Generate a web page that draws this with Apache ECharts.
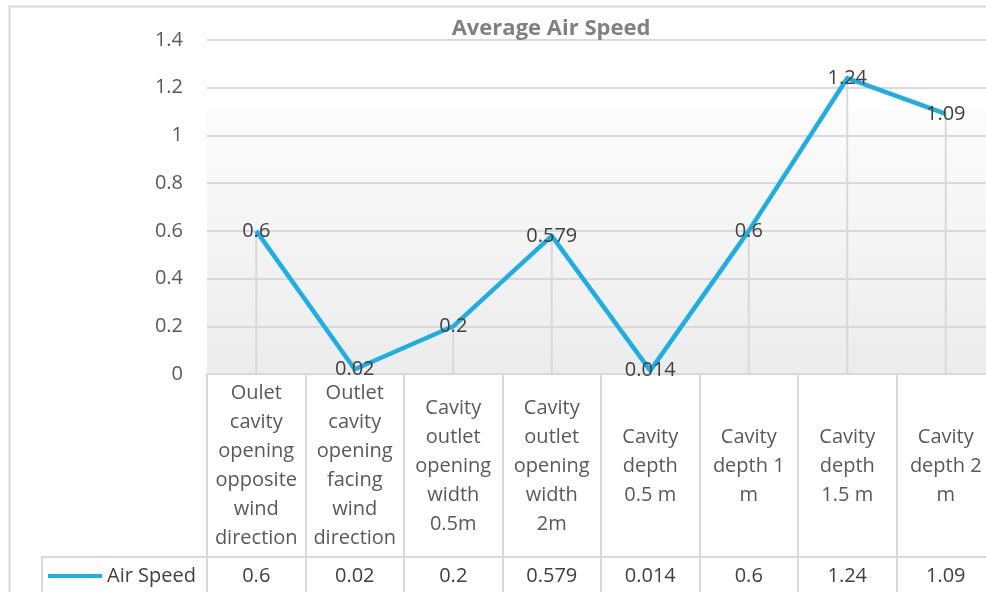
<!DOCTYPE html>
<html>
<head>
<meta charset="utf-8">
<style>
  html, body { margin: 0; padding: 0; background: #ffffff; }
  #chart { width: 986px; height: 592px; }
</style>
<script src="https://cdn.jsdelivr.net/npm/echarts@6/dist/echarts.min.js"></script>
</head>
<body>
<div id="chart"></div>
<script>
// Test configurations, wrapped as they appear in the table header
const categories = [
  'Oulet\ncavity\nopening\nopposite\nwind\ndirection',
  'Outlet\ncavity\nopening\nfacing\nwind\ndirection',
  'Cavity\noutlet\nopening\nwidth\n0.5m',
  'Cavity\noutlet\nopening\nwidth\n2m',
  'Cavity\ndepth\n0.5 m',
  'Cavity\ndepth 1\nm',
  'Cavity\ndepth\n1.5 m',
  'Cavity\ndepth 2\nm'
];
// Average air speed per configuration
const airSpeed = [0.6, 0.02, 0.2, 0.579, 0.014, 0.6, 1.24, 1.09];
const seriesName = 'Air Speed';
const yTicks = { min: 0, max: 1.4, interval: 0.2 };

const FONT = '"Open Sans", Lato, sans-serif';
const FS = 20;
const GRID = '#d9d9d9';
const BLUE = '#1faee4';

const chart = echarts.init(document.getElementById('chart'));

chart.setOption({
  animation: false,
  backgroundColor: '#ffffff',
  title: {
    text: 'Average Air Speed',
    left: 546,
    textAlign: 'center',
    top: 13,
    textStyle: { fontFamily: FONT, fontSize: 22, fontWeight: 'bold', color: '#808080' }
  },
  legend: {
    data: [seriesName],
    left: 48,
    top: 566,
    padding: 0,
    icon: 'rect',
    itemWidth: 54,
    itemHeight: 4,
    textStyle: { fontFamily: FONT, fontSize: FS, color: '#404040' }
  },
  grid: {
    left: 207,
    top: 40,
    width: 788,
    height: 334,
    outerBoundsMode: 'none',
    containLabel: false,
    show: true,
    borderWidth: 0,
    backgroundColor: new echarts.graphic.LinearGradient(0, 0, 0, 1, [
      { offset: 0, color: '#ffffff' },
      { offset: 0.205, color: '#ffffff' },
      { offset: 0.21, color: '#fcfcfc' },
      { offset: 1, color: '#ececec' }
    ])
  },
  xAxis: [
    {
      type: 'category',
      data: categories,
      boundaryGap: true,
      axisLine: { show: true, lineStyle: { color: GRID, width: 2 } },
      axisTick: { show: true, length: 220, lineStyle: { color: GRID, width: 2 } },
      axisLabel: {
        interval: 0,
        margin: 92,
        verticalAlign: 'middle',
        align: 'center',
        lineHeight: 29,
        fontFamily: FONT,
        fontSize: FS,
        color: '#595959'
      },
      splitLine: { show: false }
    },
    {
      type: 'category',
      data: categories,
      position: 'bottom',
      axisLine: { show: false },
      axisTick: { show: false },
      axisLabel: {
        interval: 0,
        margin: 202,
        verticalAlign: 'middle',
        fontFamily: FONT,
        fontSize: FS,
        color: '#404040',
        formatter: (v, i) => String(airSpeed[i])
      }
    }
  ],
  yAxis: {
    type: 'value',
    min: yTicks.min,
    max: yTicks.max,
    interval: yTicks.interval,
    axisLine: { show: false },
    axisTick: { show: false },
    axisLabel: { margin: 24, fontFamily: FONT, fontSize: FS, color: '#595959' },
    splitLine: { lineStyle: { color: GRID, width: 2 } }
  },
  series: [
    {
      // drop lines from each point to the category axis
      name: 'drop',
      type: 'bar',
      data: airSpeed,
      barWidth: 2,
      itemStyle: { color: GRID },
      silent: true,
      z: 1
    },
    {
      name: seriesName,
      type: 'line',
      data: airSpeed,
      showSymbol: true,
      symbol: 'circle',
      symbolSize: 0.1,
      lineStyle: { color: BLUE, width: 4.5, join: 'round' },
      itemStyle: { color: BLUE },
      label: {
        show: true,
        position: 'inside',
        fontFamily: FONT,
        fontSize: FS,
        color: '#404040'
      },
      z: 3
    }
  ],
  graphic: [
    {
      type: 'rect',
      shape: { x: 9.5, y: 6.5, width: 1000, height: 600 },
      style: { fill: 'none', stroke: GRID, lineWidth: 2 },
      silent: true,
      z: 0
    },
    {
      type: 'polyline',
      shape: { points: [[42, 600], [42, 557], [1000, 557]] },
      style: { fill: 'none', stroke: GRID, lineWidth: 2 },
      silent: true,
      z: 5
    }
  ]
});
</script>
</body>
</html>
